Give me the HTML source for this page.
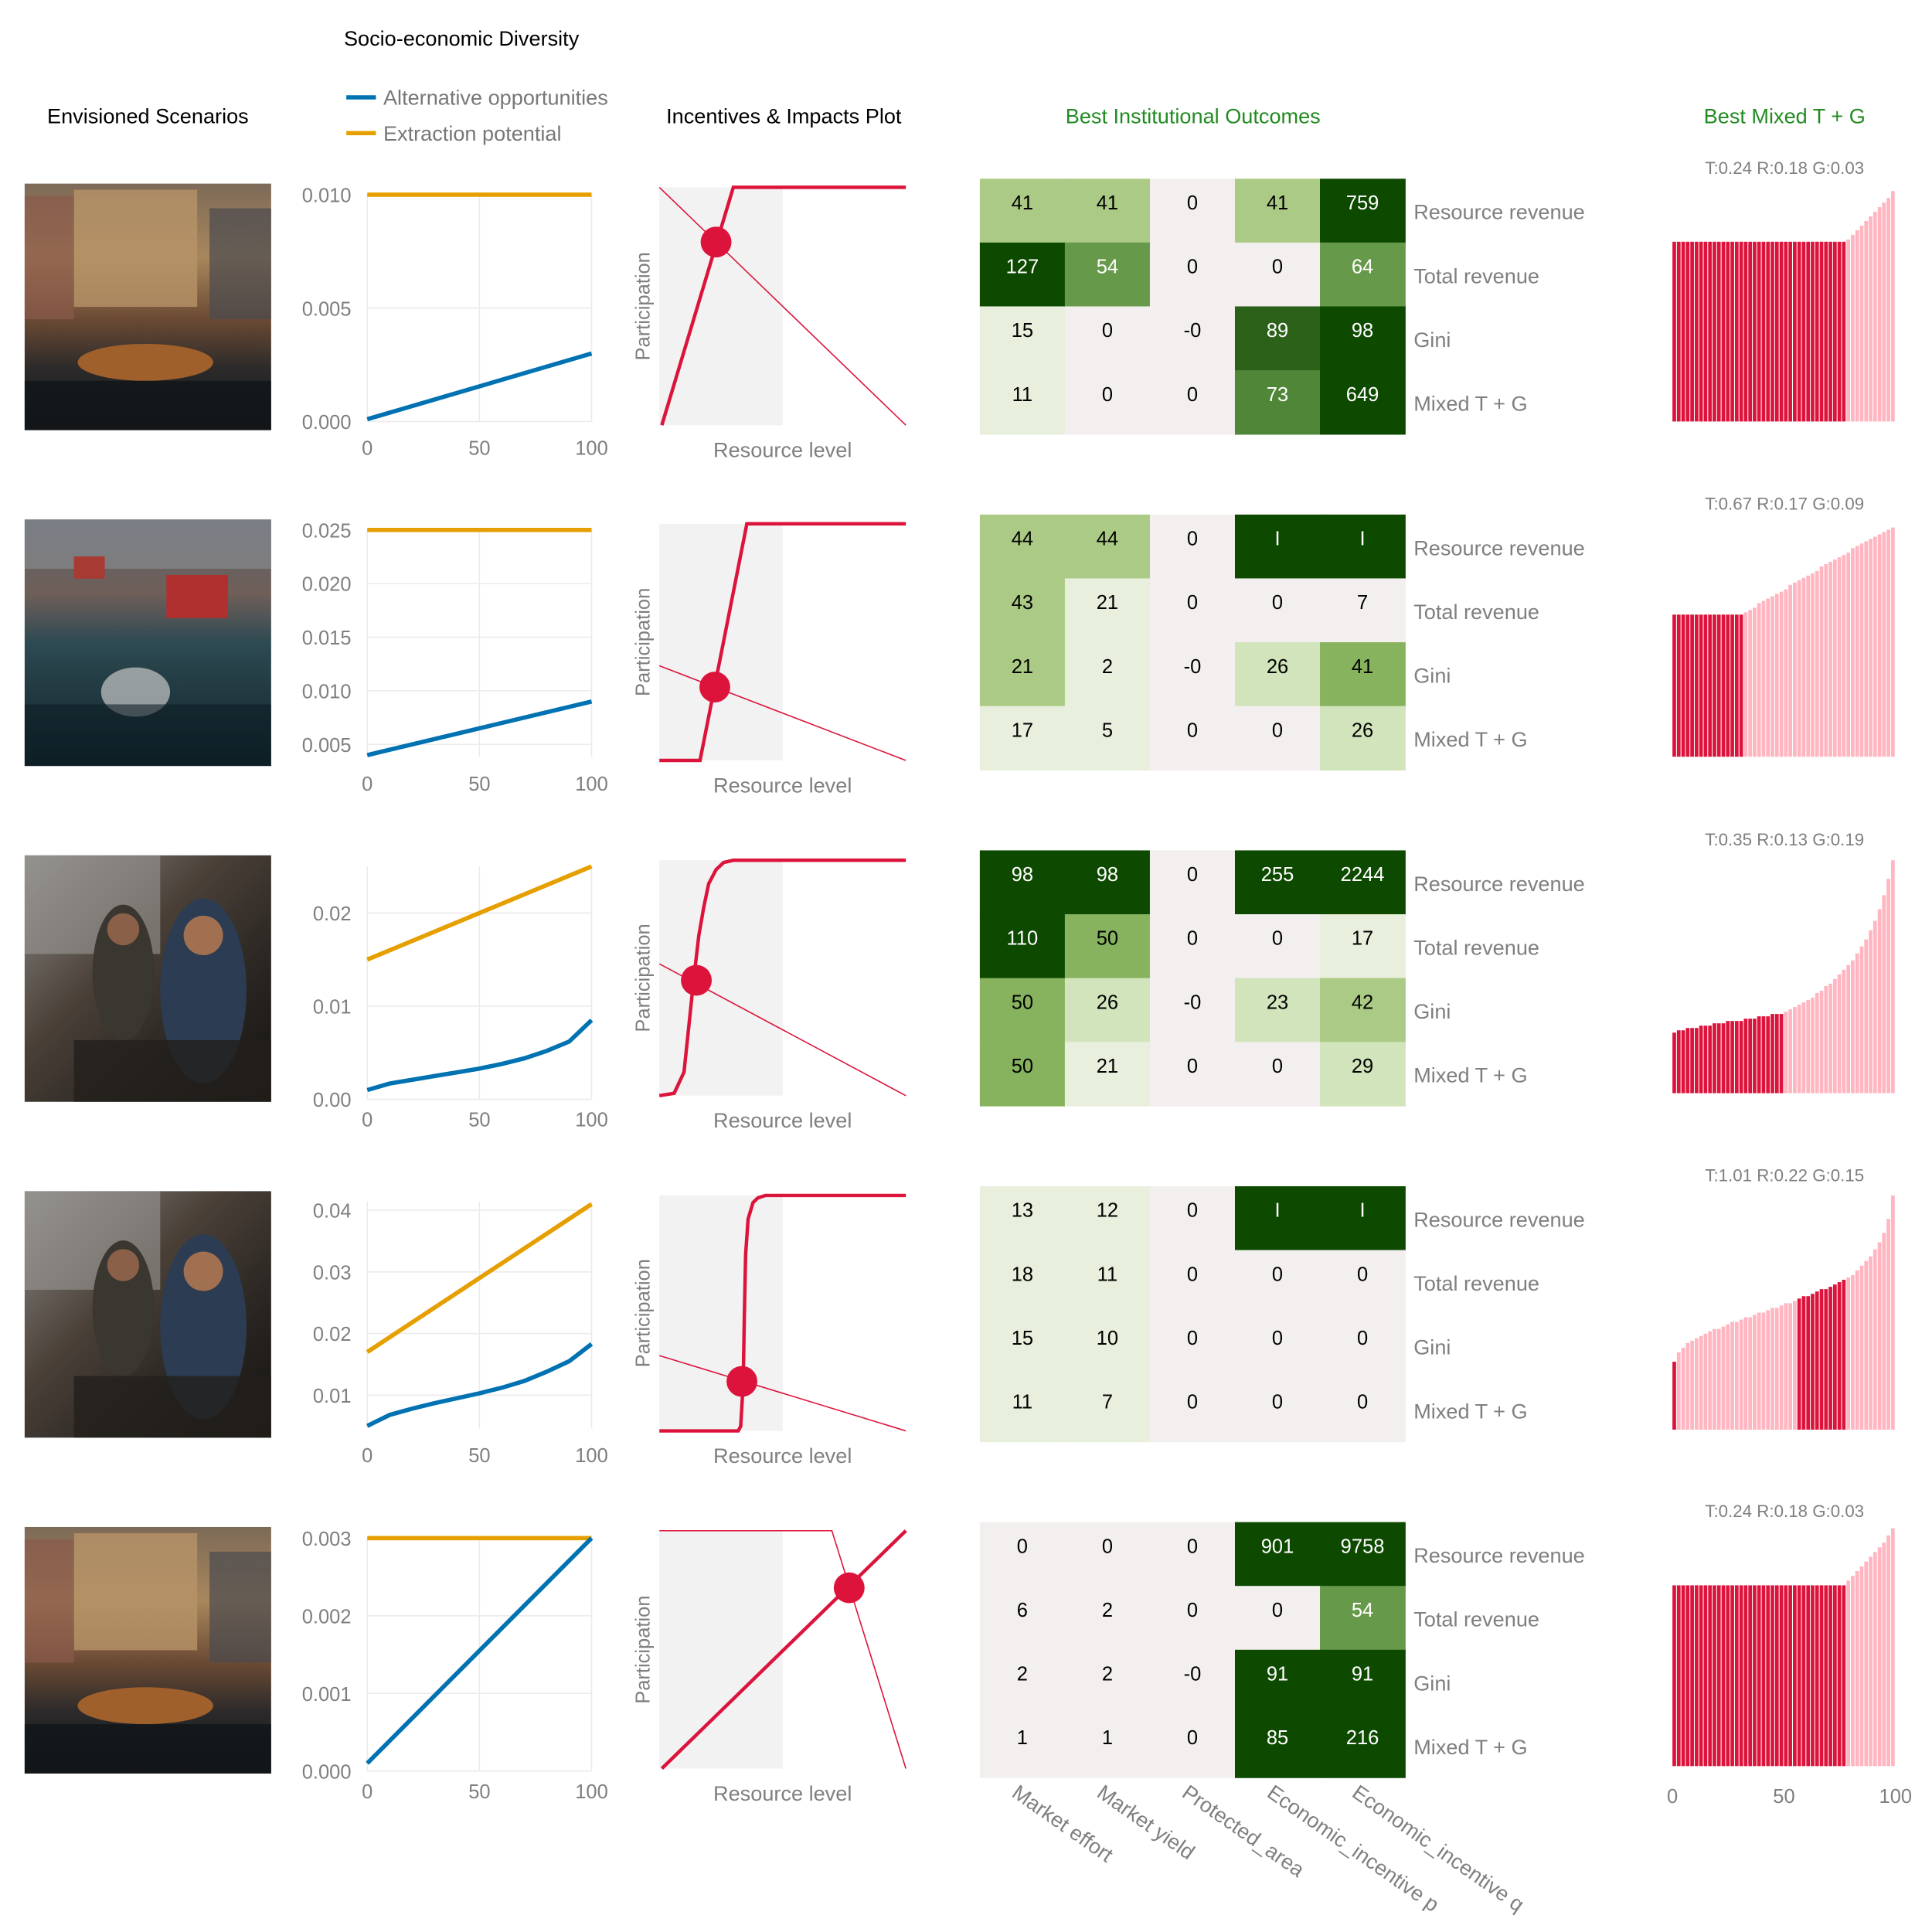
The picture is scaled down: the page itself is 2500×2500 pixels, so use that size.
<!DOCTYPE html>
<html><head><meta charset="utf-8"><style>
html,body{margin:0;padding:0;background:#fff;}
svg{display:block;font-family:"Liberation Sans",sans-serif;}
</style></head><body>
<svg id="root" width="2500" height="2500" viewBox="0 0 1567.6 1567.6" xmlns="http://www.w3.org/2000/svg">
<defs>
<linearGradient id="gWarm" x1="0" y1="0" x2="0" y2="1"><stop offset="0" stop-color="#7d6a58"/><stop offset="0.3" stop-color="#a8875c"/><stop offset="0.55" stop-color="#6b4a34"/><stop offset="0.75" stop-color="#2c2a2a"/><stop offset="1" stop-color="#14181c"/></linearGradient>
<linearGradient id="gBlue" x1="0" y1="0" x2="0" y2="1"><stop offset="0" stop-color="#5d646c"/><stop offset="0.3" stop-color="#6f5f58"/><stop offset="0.5" stop-color="#2e4a52"/><stop offset="1" stop-color="#0f2128"/></linearGradient>
<linearGradient id="gDark" x1="0" y1="0" x2="1" y2="1"><stop offset="0" stop-color="#8d8a86"/><stop offset="0.4" stop-color="#4a4038"/><stop offset="0.7" stop-color="#2a2622"/><stop offset="1" stop-color="#151311"/></linearGradient>
</defs>
<text x="279" y="37" font-size="17" fill="#000">Socio-economic Diversity</text>
<line x1="281" y1="79" x2="305" y2="79" stroke="#0072b2" stroke-width="3.5"/>
<text x="311" y="85" font-size="17" fill="#777">Alternative opportunities</text>
<line x1="281" y1="108" x2="305" y2="108" stroke="#e69f00" stroke-width="3.5"/>
<text x="311" y="114" font-size="17" fill="#777">Extraction potential</text>
<text x="120" y="100" font-size="17" text-anchor="middle" fill="#000">Envisioned Scenarios</text>
<text x="636" y="100" font-size="17" text-anchor="middle" fill="#000">Incentives &amp; Impacts Plot</text>
<text x="968" y="100" font-size="17" text-anchor="middle" fill="#228b22">Best Institutional Outcomes</text>
<text x="1448" y="100" font-size="17" text-anchor="middle" fill="#228b22">Best Mixed T + G</text>
<g id="layer"></g>
</svg>
<script>
// ---------- data ----------
const rowOffsets=[0,272.5,545,817.5,1090];
const imageKinds=["warm","blue","dark","dark","warm"];
// line plots
const lineDomains=[[0,0.010],[0.00385,0.025],[0,0.025],[0.0046,0.0414],[0,0.003]];
const yTickValues=[[0,0.005,0.010],[0.005,0.010,0.015,0.020,0.025],[0,0.01,0.02],[0.01,0.02,0.03,0.04],[0,0.001,0.002,0.003]];
const yTickLabels=[["0.000","0.005","0.010"],["0.005","0.010","0.015","0.020","0.025"],["0.00","0.01","0.02"],["0.01","0.02","0.03","0.04"],["0.000","0.001","0.002","0.003"]];
const xTickValues=[0,50,100];
const xTickLabels=["0","50","100"];
const xsLinear=[0,100];
const xsCurve=[0,10,20,30,40,50,60,70,80,90,100];
const orangeSeries=[[0.010,0.010],[0.025,0.025],[0.015,0.025],[0.017,0.041],[0.003,0.003]];
const blueSeries=[[0.0001,0.003],[0.004,0.009],
 [0.001,0.0017,0.0021,0.0025,0.0029,0.0033,0.0038,0.0044,0.0052,0.0062,0.0085],
 [0.005,0.0068,0.0078,0.0087,0.0095,0.0103,0.0112,0.0123,0.0138,0.0155,0.0183],
 [0.0001,0.003]];
// incentive plots (resource 0..1, participation 0..1)
const thickX=[[0.01,0.3,1],[0,0.165,0.355,1],[0,0.06,0.1,0.12,0.14,0.16,0.18,0.2,0.23,0.26,0.3,1],[0,0.32,0.33,0.34,0.345,0.35,0.36,0.38,0.4,0.43,1],[0.01,1]];
const thickY=[[0,1,1],[0,0,1,1],[0,0.01,0.1,0.3,0.5,0.68,0.8,0.9,0.96,0.99,1,1],[0,0,0.02,0.2,0.5,0.75,0.9,0.97,0.99,1,1],[0,1]];
const thinX=[[0,1],[0,1],[0,1],[0,1],[0,0.7,1]];
const thinY=[[1,0],[0.4,0],[0.56,0],[0.32,0],[1,1,0]];
const dotX=[0.23,0.225,0.15,0.335,0.77];
const dotY=[0.77,0.31,0.49,0.21,0.76];
// heatmaps
const heatColumns=["Market effort","Market yield","Protected_area","Economic_incentive p","Economic_incentive q"];
const heatRows=["Resource revenue","Total revenue","Gini","Mixed T + G"];
const heatValues=[
 [["41","41","0","41","759"],["127","54","0","0","64"],["15","0","-0","89","98"],["11","0","0","73","649"]],
 [["44","44","0","I","I"],["43","21","0","0","7"],["21","2","-0","26","41"],["17","5","0","0","26"]],
 [["98","98","0","255","2244"],["110","50","0","0","17"],["50","26","-0","23","42"],["50","21","0","0","29"]],
 [["13","12","0","I","I"],["18","11","0","0","0"],["15","10","0","0","0"],["11","7","0","0","0"]],
 [["0","0","0","901","9758"],["6","2","0","0","54"],["2","2","-0","91","91"],["1","1","0","85","216"]]];
const heatShades=[
 [[3,3,0,3,8],[8,5,0,0,5],[1,0,0,7,8],[1,0,0,6,8]],
 [[3,3,0,8,8],[3,1,0,0,0],[3,1,0,2,4],[1,1,0,0,2]],
 [[8,8,0,8,8],[8,4,0,0,1],[4,2,0,2,3],[4,1,0,0,2]],
 [[1,1,0,8,8],[1,1,0,0,0],[1,1,0,0,0],[1,1,0,0,0]],
 [[0,0,0,8,8],[0,0,0,0,5],[0,0,0,8,8],[0,0,0,8,8]]];
// bar plots
const barTitles=["T:0.24 R:0.18 G:0.03","T:0.67 R:0.17 G:0.09","T:0.35 R:0.13 G:0.19","T:1.01 R:0.22 G:0.15","T:0.24 R:0.18 G:0.03"];
const barValues=[
 [78,78,78,78,78,78,78,78,78,78,78,78,78,78,78,78,78,78,78,78,78,78,78,78,78,78,78,78,78,78,78,78,78,78,78,78,78,78,78,79,81,83,85,87,89,91,93,95,97,100],
 [62,62,62,62,62,62,62,62,62,62,62,62,62,62,62,62,63,64,65,67,68,69,70,71,72,73,75,76,77,78,79,80,81,83,84,85,86,87,88,89,91,92,93,94,95,96,97,98,99,100],
 [26,27,27,28,28,28,29,29,29,30,30,30,31,31,31,31,32,32,32,33,33,33,34,34,34,35,36,37,38,39,40,41,43,44,46,47,49,51,53,55,57,60,63,66,70,74,79,85,92,100],
 [29,33,35,37,38,39,40,41,42,43,43,44,45,46,46,47,48,48,49,50,50,51,52,52,53,54,54,55,56,57,57,58,59,60,60,61,62,63,64,65,66,68,70,72,74,77,80,84,90,100],
 [76,76,76,76,76,76,76,76,76,76,76,76,76,76,76,76,76,76,76,76,76,76,76,76,76,76,76,76,76,76,76,76,76,76,76,76,76,76,76,78,80,82,84,86,88,90,92,94,97,100]];
const barDarkStart=[0,0,0,28,0];
const barDarkEnd=[39,16,25,39,39];
const barAxisTicks=[0,50,100];
const barAxisLabels=["0","50","100"];

// ---------- drawing ----------
const NS="http://www.w3.org/2000/svg";
const layer=document.getElementById("layer");
function mk(tag,attrs,parent){const e=document.createElementNS(NS,tag);for(const k in attrs)e.setAttribute(k,attrs[k]);(parent||layer).appendChild(e);return e;}
const shadeColors=["#f3efee","#e8efdd","#d2e4bb","#abca85","#87b35e","#67994a","#4f8637","#2b6118","#0d4a00"];

const lpX0=298,lpX1=480;
const lpBottoms=[342,614,892,1159,1437];
const lpTops=[158,430,703,975,1248];
const ipX0=535,ipX1=735;
const ipTops=[152,425,698,970,1242];
const ipBottoms=[345,617,889,1161,1435];
const hmX0=795,hmCellW=69,hmCellH=51.8,hmTop0=145;
const bpX0=1357,bpX1=1538;
const bpBases=[342,614,887,1160,1433];
const bpTops=[155,428,698,970,1240];

for(let r=0;r<5;r++){
 const off=rowOffsets[r];
 const g=mk("g",{});
 
 
 const iy=149+off;
 const kind=imageKinds[r];
 mk("rect",{x:20,y:iy,width:200,height:200,fill:kind==="warm"?"url(#gWarm)":kind==="blue"?"url(#gBlue)":"url(#gDark)"},g);
 if(kind==="warm"){
  mk("rect",{x:60,y:iy+5,width:100,height:95,fill:"#b89468",opacity:0.8},g);
  mk("rect",{x:20,y:iy+10,width:40,height:100,fill:"#8a5a4a",opacity:0.7},g);
  mk("rect",{x:170,y:iy+20,width:50,height:90,fill:"#4a4a50",opacity:0.7},g);
  mk("ellipse",{cx:118,cy:iy+145,rx:55,ry:15,fill:"#a0602c"},g);
  mk("rect",{x:20,y:iy+160,width:200,height:40,fill:"#121518",opacity:0.8},g);
 }else if(kind==="blue"){
  mk("rect",{x:20,y:iy,width:200,height:40,fill:"#8c8f94",opacity:0.6},g);
  mk("rect",{x:135,y:iy+45,width:50,height:35,fill:"#b03030"},g);
  mk("rect",{x:60,y:iy+30,width:25,height:18,fill:"#a83a34"},g);
  mk("ellipse",{cx:110,cy:iy+140,rx:28,ry:20,fill:"#c8c8c8",opacity:0.7},g);
  mk("rect",{x:20,y:iy+150,width:200,height:50,fill:"#0d1e24",opacity:0.6},g);
 }else{
  mk("rect",{x:20,y:iy,width:110,height:80,fill:"#9a9894",opacity:0.6},g);
  mk("ellipse",{cx:100,cy:iy+95,rx:25,ry:55,fill:"#3a3630"},g);
  mk("ellipse",{cx:165,cy:iy+110,rx:35,ry:75,fill:"#2c3c52"},g);
  mk("circle",{cx:165,cy:iy+65,r:16,fill:"#a07050"},g);
  mk("circle",{cx:100,cy:iy+60,r:13,fill:"#8a6048"},g);
  mk("rect",{x:60,y:iy+150,width:160,height:50,fill:"#231f1c",opacity:0.8},g);
 }
 const lg=mk("g",{});
 
 
 const [d0,d1]=lineDomains[r];
 const yb=lpBottoms[r],yt=lpTops[r];
 const ys=v=>yb-(v-d0)/(d1-d0)*(yb-yt);
 const xs=v=>lpX0+v/100*(lpX1-lpX0);
 xTickValues.forEach((t,i)=>{
  mk("line",{x1:xs(t),x2:xs(t),y1:yt,y2:yb,stroke:"#ebebeb","stroke-width":1},lg);
  const tl=mk("text",{x:xs(t),y:lpBottoms[0]+off+27,"font-size":16,fill:"#7f7f7f","text-anchor":"middle"},lg);
  tl.textContent=xTickLabels[i];
  
  
 });
 yTickValues[r].forEach((t,i)=>{
  mk("line",{x1:lpX0,x2:lpX1,y1:ys(t),y2:ys(t),stroke:"#ebebeb","stroke-width":1},lg);
  const tl=mk("text",{x:285,y:ys(t)+6,"font-size":16,fill:"#7f7f7f","text-anchor":"end"},lg);
  tl.textContent=yTickLabels[r][i];
  
  
 });
 const ox=orangeSeries[r].length===2?xsLinear:xsCurve;
 const op=mk("polyline",{points:orangeSeries[r].map((v,i)=>xs(ox[i])+","+ys(v)).join(" "),fill:"none",stroke:"#e69f00","stroke-width":3.5},lg);
 
 
 const bx=blueSeries[r].length===2?xsLinear:xsCurve;
 const bp=mk("polyline",{points:blueSeries[r].map((v,i)=>xs(bx[i])+","+ys(v)).join(" "),fill:"none",stroke:"#0072b2","stroke-width":3.5},lg);
 
 

 const ig=mk("g",{});
 
 
 const it=ipTops[r],ib=ipBottoms[r];
 const ix=v=>ipX0+v*(ipX1-ipX0), iy2=v=>ib-v*(ib-it);
 mk("rect",{x:ipX0,y:it,width:100,height:ib-it,fill:"#f2f2f2"},ig);
 const th=mk("polyline",{points:thinX[r].map((v,i)=>ix(v)+","+iy2(thinY[r][i])).join(" "),fill:"none",stroke:"#dc143c","stroke-width":1},ig);
 
 
 const tk=mk("polyline",{points:thickX[r].map((v,i)=>ix(v)+","+iy2(thickY[r][i])).join(" "),fill:"none",stroke:"#dc143c","stroke-width":2.8},ig);
 
 
 const dt=mk("circle",{cx:ix(dotX[r]),cy:iy2(dotY[r]),r:12.5,fill:"#dc143c"},ig);
 
 
 const pl=mk("text",{x:0,y:0,"font-size":16,fill:"#7f7f7f","text-anchor":"middle",transform:`translate(527,${(it+ib)/2}) rotate(-90)`},ig);
 pl.textContent="Participation";
 
 
 const rl=mk("text",{x:635,y:ib+26,"font-size":17,fill:"#7f7f7f","text-anchor":"middle"},ig);
 rl.textContent="Resource level";
 
 

 const hg=mk("g",{});
 
 
 const ht=hmTop0+off;
 for(let i=0;i<4;i++){
  for(let j=0;j<5;j++){
   const s=heatShades[r][i][j];
   const c=mk("rect",{x:hmX0+j*hmCellW,y:ht+i*hmCellH,width:hmCellW+0.5,height:hmCellH+0.5,fill:shadeColors[s]},hg);
   
   
   const t=mk("text",{x:hmX0+j*hmCellW+hmCellW/2,y:ht+i*hmCellH+hmCellH/2-1,"font-size":16,fill:s>=5?"#fff":"#000","text-anchor":"middle"},hg);
   t.textContent=heatValues[r][i][j];
   
   
  }
  const rl2=mk("text",{x:1147,y:ht+i*hmCellH+hmCellH/2+7,"font-size":17,fill:"#7f7f7f"},hg);
  rl2.textContent=heatRows[i];
  
  
 }

 const bg=mk("g",{});
 
 
 const bt=mk("text",{x:1448,y:141+off,"font-size":14,fill:"#7f7f7f","text-anchor":"middle"},bg);
 bt.textContent=barTitles[r];
 
 
 const base=bpBases[r],top=bpTops[r];
 const n=barValues[r].length;
 const bw=(bpX1-bpX0)/n;
 barValues[r].forEach((v,i)=>{
  const dark=(i>=barDarkStart[r]&&i<barDarkEnd[r])||(r===3&&i===0);
  const h=v/100*(base-top);
  const b=mk("rect",{x:bpX0+i*bw,y:base-h,width:bw*0.82,height:h,fill:dark?"#dc143c":"#ffb6c1"},bg);
  
  
 });
}
heatColumns.forEach((c,j)=>{
 const t=mk("text",{x:0,y:0,"font-size":17,fill:"#7f7f7f",transform:`translate(${hmX0+j*hmCellW+25},${1457}) rotate(35)`});
 t.textContent=c;
 
 
});
barAxisTicks.forEach((v,i)=>{
 const t=mk("text",{x:bpX0+v/100*(bpX1-bpX0),y:1463,"font-size":16,fill:"#7f7f7f","text-anchor":"middle"});
 t.textContent=barAxisLabels[i];
 
 
});
</script>
</body></html>
